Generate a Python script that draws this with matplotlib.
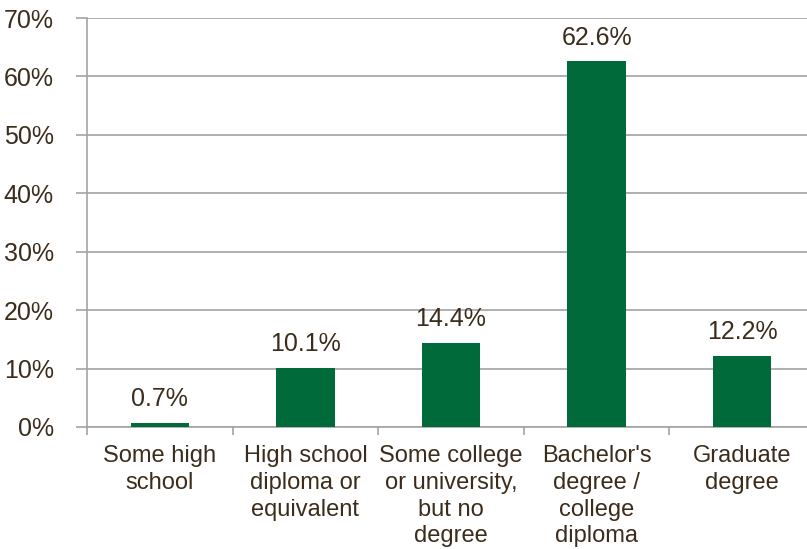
import numpy as np
import matplotlib as mpl
import matplotlib.pyplot as plt

mpl.rcParams['font.family'] = ['Liberation Sans', 'DejaVu Sans']

categories = ['Some high\nschool', 'High school\ndiploma or\nequivalent',
              'Some college\nor university,\nbut no\ndegree',
              "Bachelor's\ndegree /\ncollege\ndiploma", 'Graduate\ndegree']
shares = [0.7, 10.1, 14.4, 62.6, 12.2]
yticks = [0, 10, 20, 30, 40, 50, 60, 70]

bar_color = '#006a3b'
text_color = '#3b2c1c'
grid_color = '#a3a3a3'

fig = plt.figure(figsize=(8.07, 5.49), dpi=100)
# axes run slightly past the right edge of the canvas
ax = fig.add_axes([87/807, 122/549, 728/807, 409/549])

ind = np.arange(len(categories))
rects = ax.bar(ind, shares, 0.4, color=bar_color, zorder=3)

ax.set_xlim(-0.5, len(categories) - 0.5)
ax.set_ylim(0, 70)
ax.set_yticks(yticks)
ax.set_yticklabels(['%d%%' % v for v in yticks])
ax.yaxis.grid(True, color=grid_color, linewidth=1.2, zorder=0)

ax.set_xticks(ind)
ax.set_xticklabels(categories, fontsize=17, color=text_color, linespacing=1.28)
ax.set_xticks(np.arange(len(categories) + 1) - 0.5, minor=True)
ax.tick_params(axis='x', which='major', length=0, pad=13)
ax.tick_params(axis='x', which='minor', length=6, width=1.2, color=grid_color, direction='out')
ax.tick_params(axis='y', length=8, width=1.2, color=grid_color, labelsize=18,
               labelcolor=text_color, pad=16)

for side in ['top', 'right']:
    ax.spines[side].set_visible(False)
for side in ['left', 'bottom']:
    ax.spines[side].set_color(grid_color)
    ax.spines[side].set_linewidth(1.2)

for rect, v in zip(rects, shares):
    ax.annotate('%.1f%%' % v, (rect.get_x() + rect.get_width()/2, rect.get_height()),
                xytext=(0, 12), textcoords='offset points',
                ha='center', va='baseline', fontsize=18, color=text_color)

fig.savefig('out.png', dpi=100)
